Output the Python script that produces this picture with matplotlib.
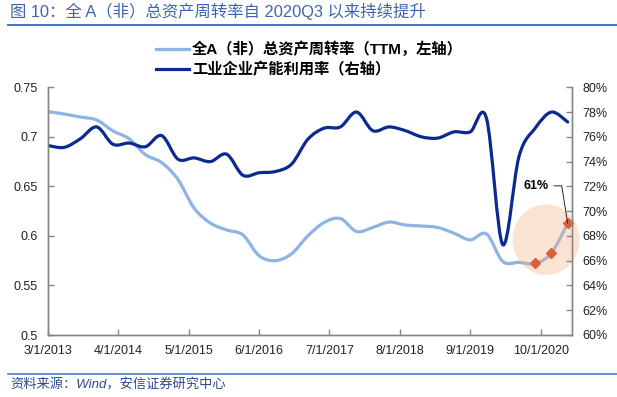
import numpy as np
import pandas as pd
import matplotlib
matplotlib.use("Agg")
import matplotlib.pyplot as plt
from matplotlib.path import Path
from matplotlib.patches import PathPatch, Ellipse
from matplotlib.lines import Line2D

plt.rcParams['font.family'] = ['Liberation Sans', 'Noto Sans CJK SC', 'DejaVu Sans']

# quarterly data, 2013Q1 .. 2021Q1
quarters = pd.period_range('2013Q1', '2021Q1', freq='Q')
turnover = [0.7255, 0.723, 0.720, 0.717, 0.706, 0.698, 0.682, 0.674, 0.657,
            0.628, 0.613, 0.606, 0.601, 0.580, 0.575, 0.582, 0.600, 0.6135,
            0.6175, 0.6045, 0.6085, 0.614, 0.611, 0.610, 0.6085, 0.6027,
            0.596, 0.602, 0.5743, 0.5733, 0.5723, 0.5827, 0.6127]
capacity = [75.3, 75.15, 75.85, 76.8, 75.4, 75.5, 75.2, 76.1, 74.2, 74.3,
            74.0, 74.6, 72.9, 73.1, 73.2, 73.8, 75.8, 76.7, 76.8, 78.0,
            76.5, 76.8, 76.5, 76.0, 75.9, 76.4, 76.4, 77.5, 67.3, 74.4,
            76.7, 78.0, 77.2]
highlight = ['2020Q3', '2020Q4', '2021Q1']
tick_labels = ['3/1/2013', '4/1/2014', '5/1/2015', '6/1/2016',
               '7/1/2017', '8/1/2018', '9/1/2019', '10/1/2020']
label_turnover = '全A（非）总资产周转率（TTM，左轴）'
label_capacity = '工业企业产能利用率（右轴）'


def month_index(year, month):
    # months since March 2013
    return (year - 2013) * 12 + month - 3


x = np.array([month_index(q.year, q.end_time.month) for q in quarters])
tick_pos = []
for t in tick_labels:
    m, d, y = t.split('/')
    tick_pos.append(month_index(int(y), int(m)))


def smooth_path(xs, ys):
    # excel-like smoothed line (bezier through the data points)
    pts = np.column_stack([xs, ys]).astype(float)
    n = len(pts)
    verts = [pts[0]]
    codes = [Path.MOVETO]
    for i in range(n - 1):
        p0 = pts[max(i - 1, 0)]
        p1 = pts[i]
        p2 = pts[i + 1]
        p3 = pts[min(i + 2, n - 1)]
        verts += [p1 + (p2 - p0) / 6, p2 - (p3 - p1) / 6, p2]
        codes += [Path.CURVE4] * 3
    return Path(verts, codes)


c_light = '#8DB4E2'
c_dark = '#0B2A8F'
c_spine = '#868686'

fig = plt.figure(figsize=(6.17, 3.97), dpi=100)
ax = fig.add_axes([48 / 617, 1 - 335 / 397, (572 - 48) / 617, (335 - 87.3) / 397])
ax2 = ax.twinx()

ax.add_patch(PathPatch(smooth_path(x, turnover), fill=False, edgecolor=c_light,
                       lw=2.3, capstyle='round', joinstyle='round', zorder=2))
ax2.add_patch(PathPatch(smooth_path(x, capacity), fill=False, edgecolor=c_dark,
                        lw=2.3, capstyle='round', joinstyle='round', zorder=2))

# highlight circle and markers
hl = [i for i, q in enumerate(quarters) if str(q) in highlight]
hx = x[hl]
hy = np.array(turnover)[hl]
ax.add_patch(Ellipse((92.0, 0.5962), 12.4, 0.0713, facecolor='#F4B183',
                     alpha=0.35, edgecolor='none', zorder=3, clip_on=False))
ax.plot(hx, hy, 'D', color='#D9603B', markersize=5.5, zorder=4, clip_on=False)
ax.annotate('61%', xy=(hx[-1], hy[-1]), xytext=(-23, 27), textcoords='offset points',
            ha='center', va='center', fontsize=9, fontweight='bold',
            arrowprops=dict(arrowstyle='-', color='#222222', lw=0.7,
                            connectionstyle='angle,angleA=0,angleB=99,rad=0',
                            shrinkA=2, shrinkB=0),
            zorder=5)

ax.set_xlim(0, 96.8)
ax.set_ylim(0.5, 0.75)
ax2.set_ylim(60, 80)
ax.set_xticks(tick_pos)
ax.set_xticklabels(tick_labels)
ax.set_yticks(np.arange(0.5, 0.751, 0.05))
ax.set_yticklabels(['0.5', '0.55', '0.6', '0.65', '0.7', '0.75'])
ax2.set_yticks(np.arange(60, 81, 2))
ax2.set_yticklabels([f'{v}%' for v in range(60, 81, 2)])

for a in (ax, ax2):
    a.spines['top'].set_visible(False)
    for s in ('left', 'right', 'bottom'):
        a.spines[s].set_color(c_spine)
        a.spines[s].set_linewidth(1.0)
    a.tick_params(direction='in', length=4, width=1.0, color=c_spine,
                  labelsize=9, labelcolor='#222222', pad=7.5)

handles = [Line2D([], [], color=c_light, lw=2.3),
           Line2D([], [], color=c_dark, lw=2.3)]
fig.legend(handles, [label_turnover, label_capacity], loc='center left',
           bbox_to_anchor=(156 / 617, 1 - 59.2 / 397), frameon=False,
           prop={'size': 11, 'weight': 'bold'}, handlelength=2.15,
           handletextpad=0.2, labelspacing=0.3, borderpad=0, borderaxespad=0)

fig.text(10 / 617, 1 - 11.7 / 397, '图 10：全 A（非）总资产周转率自 2020Q3 以来持续提升',
         color='#3D65AE', fontsize=11.8, va='center')
fig.add_artist(Line2D([8 / 617, 1], [1 - 25 / 397] * 2, color='#4472C4', lw=1.4))
fig.add_artist(Line2D([8 / 617, 1], [1 - 374 / 397] * 2, color='#4472C4', lw=1.1))
fig.text(10 / 617, 1 - 385 / 397, '资料来源：Wind，安信证券研究中心',
         style='italic', color='#2B4A8B', fontsize=9.5, va='center')

fig.savefig('out.png', dpi=100)
